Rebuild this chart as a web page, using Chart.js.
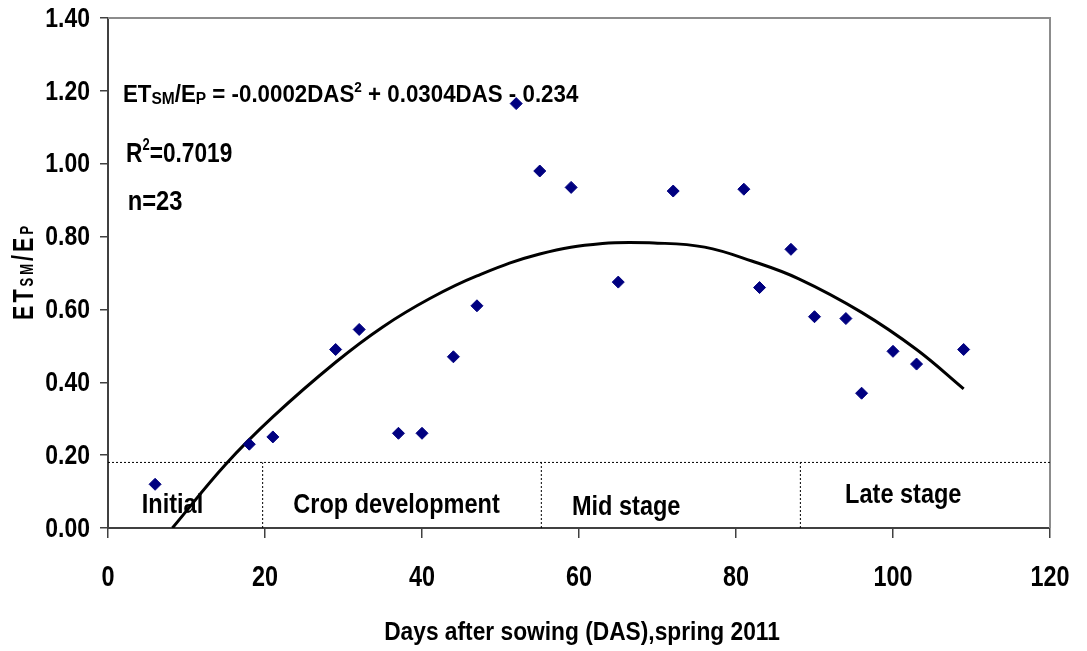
<!DOCTYPE html>
<html>
<head>
<meta charset="utf-8">
<script src="https://cdn.jsdelivr.net/npm/chart.js@4.4.1/dist/chart.umd.min.js"></script>
<style>
    html, body { margin: 0; padding: 0; background: #ffffff; }
    #chart { display: block; }
</style>
</head>
<body>
<canvas id="chart" width="1087" height="651"></canvas>
<script>
// measured points, days after sowing vs ETsm/Ep
const dasValues = [6, 18, 21, 29, 32, 37, 40, 44, 47, 52, 55, 59, 65, 72, 81, 83, 87, 90, 94, 96, 100, 103, 109];
const ratioValues = [0.12, 0.23, 0.25, 0.49, 0.545, 0.26, 0.26, 0.47, 0.61, 1.165, 0.98, 0.935, 0.675, 0.925, 0.93, 0.66, 0.765, 0.58, 0.575, 0.37, 0.485, 0.45, 0.49];

// polynomial trend line
const trendDas = [8.2, 15, 21, 29, 35, 41, 47, 55, 63, 70, 76, 82, 88, 96, 103, 109];
const trendRatio = [0, 0.175, 0.305, 0.455, 0.552, 0.63, 0.692, 0.752, 0.781, 0.782, 0.771, 0.733, 0.684, 0.592, 0.49, 0.382];

// crop stages
const stageBounds = [19.7, 55.2, 88.2];
const stageTop = 0.18;
const stageNames = ['Initial', 'Crop development', 'Mid stage', 'Late stage'];
const stageLabelDas = [4.3, 23.6, 59.1, 93.9];
const stageLabelRatio = [0.063, 0.063, 0.058, 0.09];

const xTicks = [0, 20, 40, 60, 80, 100, 120];
const yTicks = [0, 0.2, 0.4, 0.6, 0.8, 1.0, 1.2, 1.4];

const FONT = "'Liberation Sans', Arial, sans-serif";
const INK = '#000000';

const points = dasValues.map((d, i) => ({ x: d, y: ratioValues[i] }));
const trend = trendDas.map((d, i) => ({ x: d, y: trendRatio[i] }));

const dottedStyle = {
    borderColor: INK,
    borderWidth: 1,
    borderDash: [2, 2],
    pointRadius: 0,
    showLine: true,
    fill: false
};

const datasets = [
    {
        label: 'ETsm/Ep',
        data: points,
        pointStyle: 'rectRot',
        pointRadius: 6,
        pointHoverRadius: 6,
        backgroundColor: '#000080',
        borderColor: '#000080',
        borderWidth: 1,
        order: 0
    },
    {
        label: 'Trend',
        data: trend,
        borderColor: INK,
        borderWidth: 3,
        pointRadius: 0,
        showLine: true,
        tension: 0.4,
        fill: false,
        order: 1
    },
    {
        label: 'Stage line',
        data: [{ x: xTicks[0], y: stageTop }, { x: xTicks[xTicks.length - 1], y: stageTop }],
        ...dottedStyle,
        order: 2
    }
];

stageBounds.forEach(b => {
    datasets.push({
        label: 'Stage ' + b,
        data: [{ x: b, y: 0 }, { x: b, y: stageTop }],
        ...dottedStyle,
        order: 2
    });
});

// condensed bold text: the figure uses a narrow face, so squeeze horizontally
function narrowText(ctx, text, x, y, size, squeeze, align) {
    ctx.font = `bold ${size}px ${FONT}`;
    const w = ctx.measureText(text).width * squeeze;
    let left = x;
    if (align === 'right') left = x - w;
    if (align === 'center') left = x - w / 2;
    ctx.save();
    ctx.translate(left, y);
    ctx.scale(squeeze, 1);
    ctx.fillText(text, 0, 0);
    ctx.restore();
    return w;
}

// run of pieces with own size / shift
function drawRich(ctx, x, y, parts, squeeze, gap) {
    let cx = x;
    parts.forEach(p => {
        cx += narrowText(ctx, p.text, cx, y + (p.dy || 0), p.size, squeeze, 'left') + (gap || 0);
    });
    return cx - x;
}

const framePlugin = {
    id: 'frame',
    beforeDatasetsDraw(chart) {
        const { ctx, chartArea: a } = chart;
        ctx.save();
        ctx.strokeStyle = '#8c8c8c';
        ctx.lineWidth = 2;
        ctx.beginPath();
        ctx.moveTo(a.left, a.top);
        ctx.lineTo(a.right, a.top);
        ctx.lineTo(a.right, a.bottom);
        ctx.stroke();
        ctx.restore();
    }
};

const textPlugin = {
    id: 'texts',
    afterDraw(chart) {
        const { ctx, scales: { x, y } } = chart;
        ctx.save();
        ctx.fillStyle = INK;
        ctx.textAlign = 'left';

        // tick labels
        ctx.textBaseline = 'middle';
        yTicks.forEach(v => {
            narrowText(ctx, v.toFixed(2), 90, y.getPixelForValue(v) + 1, 28, 0.82, 'right');
        });
        xTicks.forEach(v => {
            narrowText(ctx, String(v), x.getPixelForValue(v), 578, 30, 0.78, 'center');
        });

        // x axis title
        ctx.textBaseline = 'alphabetic';
        narrowText(ctx, 'Days after sowing (DAS),spring 2011', 582, 640, 25, 0.91, 'center');

        drawRich(ctx, x.getPixelForValue(1.9), y.getPixelForValue(1.17), [
            { text: 'ET', size: 23 },
            { text: 'SM', size: 16, dy: 2 },
            { text: '/E', size: 23 },
            { text: 'P', size: 16, dy: 2 },
            { text: ' = -0.0002DAS', size: 23 },
            { text: '2', size: 14, dy: -10 },
            { text: ' + 0.0304DAS - 0.234', size: 23 }
        ], 0.97);

        drawRich(ctx, x.getPixelForValue(2.3), y.getPixelForValue(1.005), [
            { text: 'R', size: 28 },
            { text: '2', size: 16, dy: -12 },
            { text: '=0.7019', size: 28 }
        ], 0.81);

        drawRich(ctx, x.getPixelForValue(2.5), y.getPixelForValue(0.873), [
            { text: 'n=23', size: 27 }
        ], 0.88);

        // stage names
        ctx.textBaseline = 'middle';
        stageNames.forEach((name, i) => {
            narrowText(ctx, name, x.getPixelForValue(stageLabelDas[i]), y.getPixelForValue(stageLabelRatio[i]), 28, 0.84, 'left');
        });

        // rotated y axis title with small subscripts
        ctx.textBaseline = 'alphabetic';
        ctx.translate(33, 320);
        ctx.rotate(-Math.PI / 2);
        drawRich(ctx, 0, 0, [
            { text: 'E', size: 30 },
            { text: 'T', size: 30 },
            { text: 'S', size: 18 },
            { text: 'M', size: 18 },
            { text: '/', size: 30 },
            { text: 'E', size: 30 },
            { text: 'P', size: 18 }
        ], 0.72, 3);
        ctx.restore();
    }
};

new Chart(document.getElementById('chart').getContext('2d'), {
    type: 'scatter',
    data: { datasets },
    options: {
        responsive: false,
        animation: false,
        layout: { padding: { top: 18, right: 37, left: 0, bottom: 0 } },
        plugins: {
            legend: { display: false },
            tooltip: { enabled: false }
        },
        scales: {
            x: {
                type: 'linear',
                min: xTicks[0],
                max: xTicks[xTicks.length - 1],
                afterBuildTicks: s => { s.ticks = xTicks.map(v => ({ value: v })); },
                afterFit: s => { s.height = 123; },
                ticks: { display: false },
                grid: { drawOnChartArea: false, tickLength: 10, color: '#404040', lineWidth: 1.5 },
                border: { color: '#404040', width: 2 }
            },
            y: {
                type: 'linear',
                min: yTicks[0],
                max: yTicks[yTicks.length - 1],
                afterBuildTicks: s => { s.ticks = yTicks.map(v => ({ value: v })); },
                afterFit: s => { s.width = 108; },
                ticks: { display: false },
                grid: { drawOnChartArea: false, tickLength: 8, color: '#404040', lineWidth: 1.5 },
                border: { color: '#404040', width: 2 }
            }
        }
    },
    plugins: [framePlugin, textPlugin]
});
</script>
</body>
</html>
